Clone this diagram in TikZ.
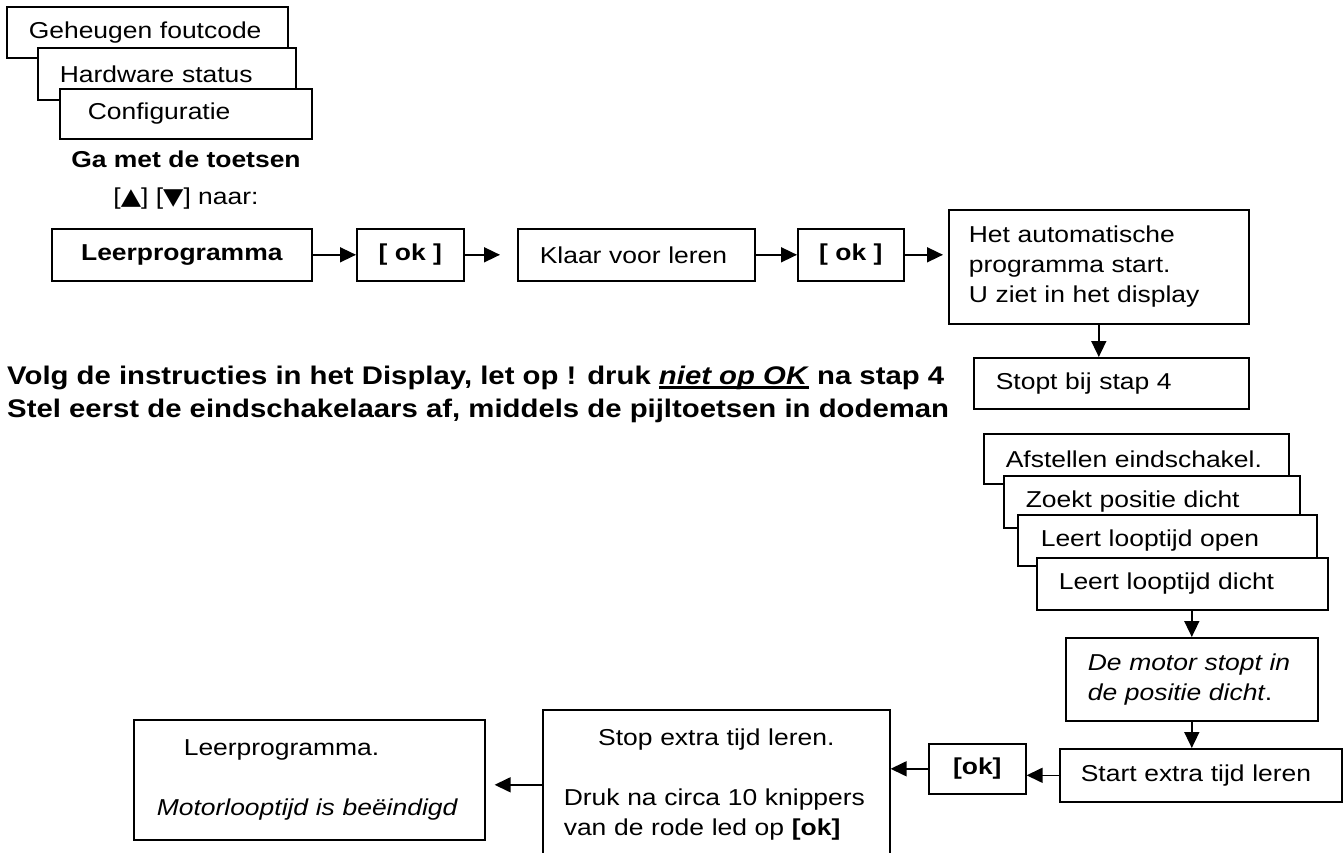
\documentclass[tikz,border=0pt]{standalone}
\usepackage{fontspec}
\setmainfont[FakeStretch=1.15]{Liberation Sans}
\newfontfamily\pijlfont[FakeStretch=1.15]{DejaVu Sans}
\usetikzlibrary{arrows.meta,positioning}
\newcommand{\dikonder}[1]{\setbox0\hbox{#1}\rlap{\rule[-4.5pt]{\wd0}{2.6pt}}\box0\relax}

\tikzset{
  x=1pt, y=-1pt, % pixel-like units, y runs downwards
  kader/.style n args={3}{draw, line width=1.6pt, fill=white, anchor=north west,
    inner ysep=0pt, inner xsep=#3, minimum width=#1, minimum height=#2,
    text width=#1-2*#3, align=left, font=\fontsize{23}{30}\selectfont},
  knop/.style 2 args={draw, line width=1.6pt, fill=white, anchor=north west,
    inner sep=0pt, minimum width=#1, minimum height=#2, align=center,
    font=\fontsize{23}{30}\selectfont\bfseries},
  pijl/.style={-{Triangle[length=16pt,width=15pt]}, line width=1.6pt}, % filled arrow head
}

\begin{document}
\begin{tikzpicture}
    \clip (0,0) rectangle (1344,852);
    % menu stack top left
    \node[kader={281}{51}{22}] (geheugen) at (6,6) {Geheugen foutcode};
    \node[kader={258}{52}{22}] (hardware) at (37,47) {Hardware status};
    \node[kader={252}{50}{28}] (config) at (59,88) {Configuratie};
    \node[align=center, inner sep=0pt, font=\fontsize{23}{30}\selectfont] (toetsen) at (186,180)
        {\textbf{Ga met de toetsen}\\[7pt][{\pijlfont ▲}] [{\pijlfont ▼}] naar:};

    % first row
    \node[knop={260}{52}] (leer) at (51,228) {Leerprogramma};
    \node[knop={107}{52}] (ok1) at (356,228) {[ ok ]};
    \node[kader={237}{52}{22}] (klaar) at (517,228) {Klaar voor leren};
    \node[knop={106}{52}] (ok2) at (797,228) {[ ok ]};
    \node[kader={300}{114}{20}] (auto) at (948,209)
        {Het automatische\\programma start.\\U ziet in het display};
    \node[kader={275}{51}{22}] (stopt) at (973,357) {Stopt bij stap 4};

    \node[anchor=west, align=left, inner sep=0pt, font=\fontsize{25.5}{33}\selectfont\bfseries] (instructie) at (7,394)
        {Volg de instructies in het Display, let op ! druk \dikonder{\textit{niet op OK}} na stap 4\\
         Stel eerst de eindschakelaars af, middels de pijltoetsen in dodeman};

    % display stack right
    \node[kader={305}{50}{22}] (afstellen) at (983,433) {Afstellen eindschakel.};
    \node[kader={296}{52}{22}] (zoekt) at (1003,475) {Zoekt positie dicht};
    \node[kader={299}{51}{23}] (open) at (1017,514) {Leert looptijd open};
    \node[kader={291}{52}{22}] (dicht) at (1036,557) {Leert looptijd dicht};
    \node[kader={252}{83}{22}] (motor) at (1065,637)
        {\textit{De motor stopt in}\\\textit{de positie dicht}.};
    \node[kader={282}{53}{21}] (start) at (1059,748) {Start extra tijd leren};

    % bottom row
    \node[knop={97}{50}] (okb) at (928,743) {[ok]};
    \node[kader={347}{150}{21}] (stop) at (542,709)
        {\makebox[305pt][c]{Stop extra tijd leren.}\\[30pt]
         Druk na circa 10 knippers\\van de rode led op \textbf{[ok]}};
    \node[kader={351}{120}{23}] (einde) at (133,719)
        {\hspace*{27pt}Leerprogramma.\\[30pt]\textit{Motorlooptijd is beëindigd}};

    \draw[pijl] (leer) -- (ok1);
    \draw[pijl, shorten >=17pt] (ok1) -- (klaar);
    \draw[pijl] (klaar) -- (ok2);
    \draw[pijl, shorten >=5pt] (ok2.east) -- (ok2.east -| auto.west);
    \draw[pijl] (auto.south) -- (auto.south |- stopt.north);
    \draw[pijl] (dicht.south -| motor.north) -- (motor.north);
    \draw[pijl] (motor.south) -- (motor.south |- start.north);
    \draw[pijl] (start.west) -- (start.west -| okb.east);
    \draw[pijl] (okb.west) -- (okb.west -| stop.east);
    \draw[pijl, shorten >=9pt] (stop.west) -- (stop.west -| einde.east);
\end{tikzpicture}
\end{document}
